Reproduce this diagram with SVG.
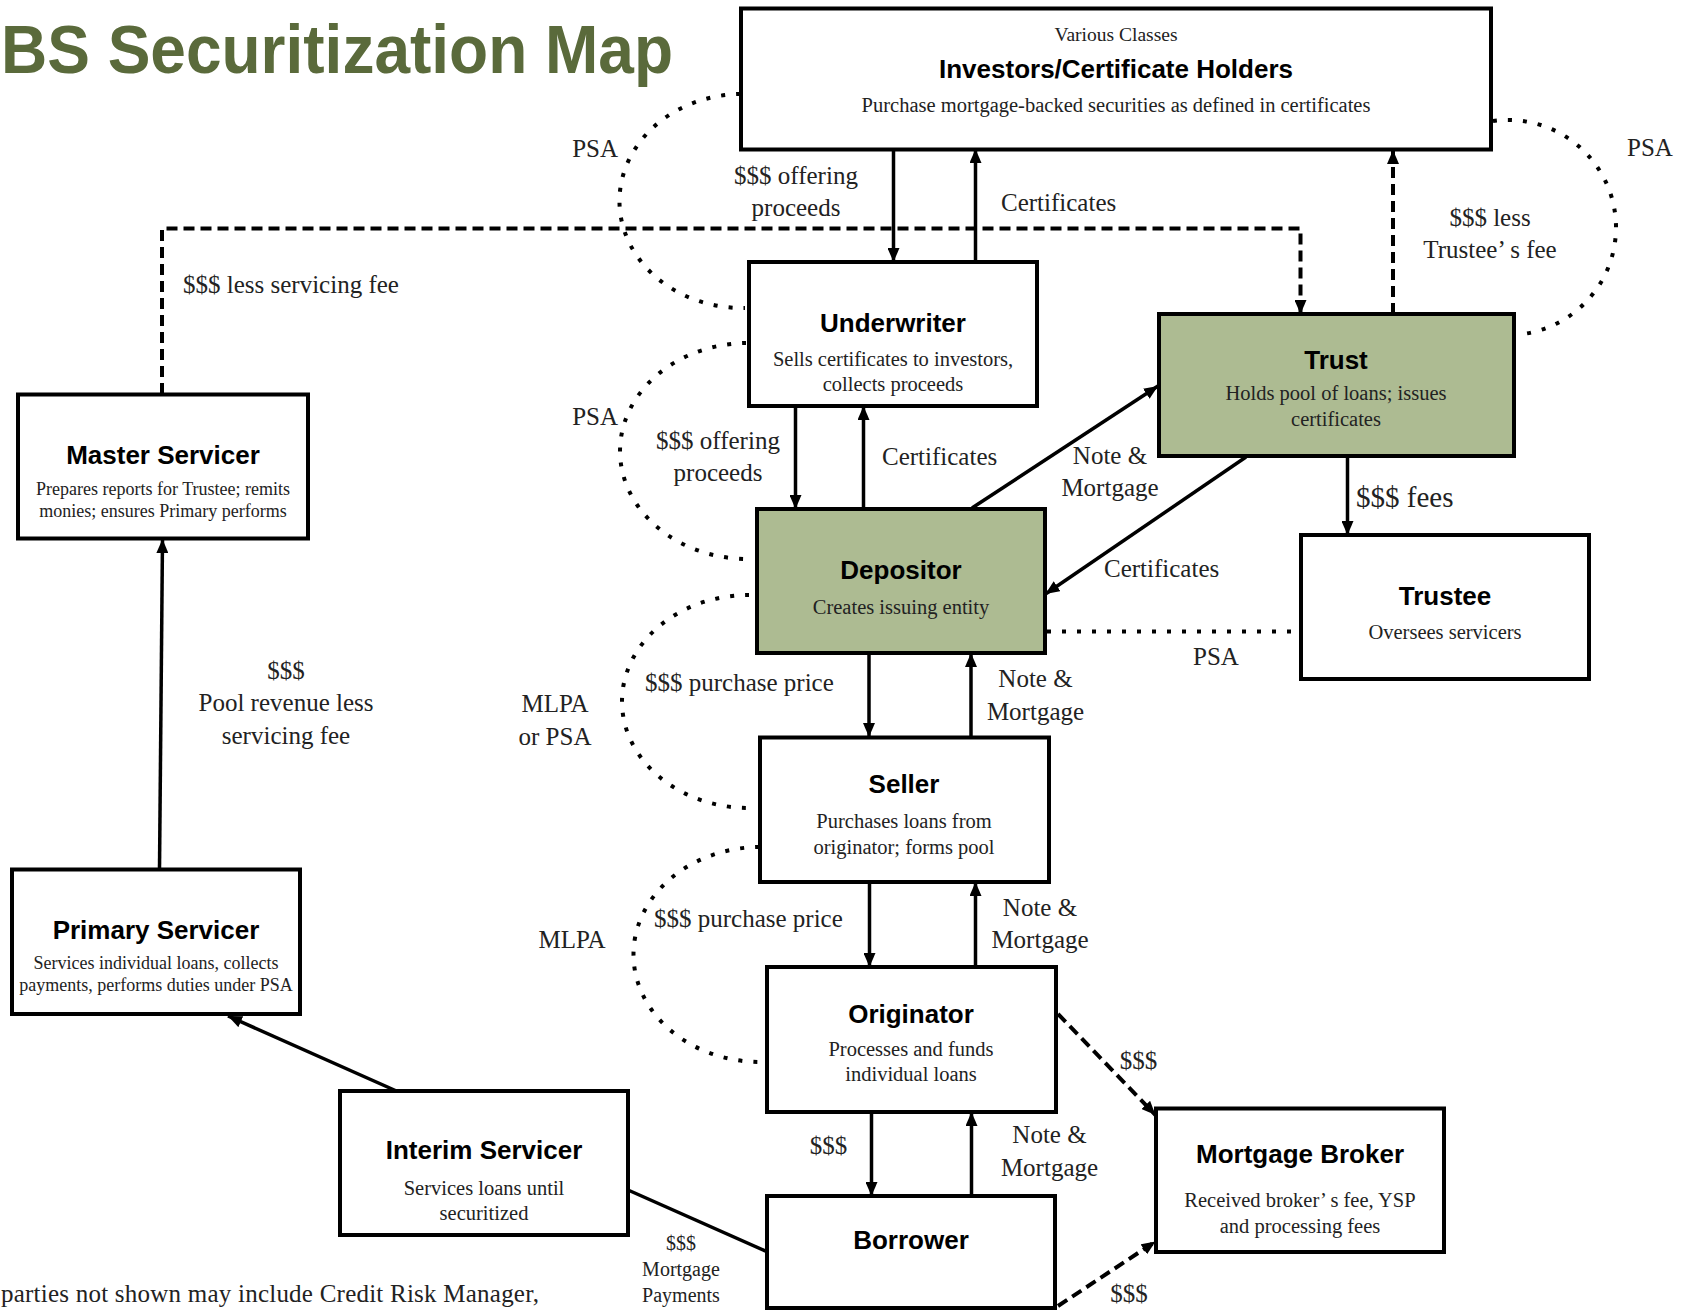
<svg xmlns="http://www.w3.org/2000/svg" width="1681" height="1310" viewBox="0 0 1681 1310">
<style>
.box{fill:#fff;stroke:#000;stroke-width:4}
.green{fill:#adbb92}
.t{font-family:"Liberation Sans",Arial,sans-serif;font-weight:bold;font-size:26px;fill:#000;text-anchor:middle}
.d{font-family:"Liberation Serif","Times New Roman",serif;font-size:20.5px;fill:#222;text-anchor:middle}
.ds{font-family:"Liberation Serif","Times New Roman",serif;font-size:18px;fill:#222;text-anchor:middle}
.l{font-family:"Liberation Serif","Times New Roman",serif;font-size:25px;fill:#222}
.m{text-anchor:middle}
.e{text-anchor:end}
.ln{fill:none;stroke:#000;stroke-width:3.5}
.dash{fill:none;stroke:#000;stroke-width:4;stroke-dasharray:11 6}
.dot{fill:none;stroke:#000;stroke-width:4;stroke-dasharray:4 11}
</style>
<defs>
<marker id="ah" viewBox="0 0 14 12" refX="14" refY="6" markerWidth="14" markerHeight="12" markerUnits="userSpaceOnUse" orient="auto">
<path d="M0,0 L14,6 L0,12 z" fill="#000" stroke="none"/>
</marker>
</defs>
<rect width="1681" height="1310" fill="#fff"/>
<text x="1" y="73" font-family="'Liberation Sans',Arial,sans-serif" font-weight="bold" font-size="69" fill="#5a6a3b" textLength="672" lengthAdjust="spacingAndGlyphs">BS Securitization Map</text>

<g id="connectors">
<path class="dot" d="M740,94 A123,107 0 0,0 745,308"/>
<path class="dot" d="M1493,121 A107,106.5 0 0,1 1523,334"/>
<path class="dot" d="M746,343 A128,108 0 0,0 750,559"/>
<path class="dot" d="M749,595 A127,106.5 0 0,0 749,808"/>
<path class="dot" d="M759,847 A127,107.5 0 0,0 762,1062"/>
<path class="dot" d="M1047,631.5 L1300,631.5"/>
<path class="dash" d="M162,394 L162,228.5 L1300.5,228.5 L1300.5,314" marker-end="url(#ah)"/>
<path class="dash" d="M1393,314 L1393,150" marker-end="url(#ah)"/>
<path class="dash" d="M1058,1014 L1155.5,1115" marker-end="url(#ah)"/>
<path class="dash" d="M1058,1306 L1155.5,1241.5" marker-end="url(#ah)"/>
<path class="ln" d="M893.5,149 L893.5,262" marker-end="url(#ah)"/>
<path class="ln" d="M975.5,262 L975.5,149" marker-end="url(#ah)"/>
<path class="ln" d="M795.5,406 L795.5,509" marker-end="url(#ah)"/>
<path class="ln" d="M863.5,509 L863.5,406" marker-end="url(#ah)"/>
<path class="ln" d="M972,508 L1158,386" marker-end="url(#ah)"/>
<path class="ln" d="M1246,457 L1045.5,594" marker-end="url(#ah)"/>
<path class="ln" d="M1347.5,456 L1347.5,535" marker-end="url(#ah)"/>
<path class="ln" d="M869,653 L869,737" marker-end="url(#ah)"/>
<path class="ln" d="M971,737 L971,653" marker-end="url(#ah)"/>
<path class="ln" d="M869.5,882 L869.5,967" marker-end="url(#ah)"/>
<path class="ln" d="M975.5,967 L975.5,882" marker-end="url(#ah)"/>
<path class="ln" d="M871.5,1112 L871.5,1196" marker-end="url(#ah)"/>
<path class="ln" d="M971.5,1196 L971.5,1112" marker-end="url(#ah)"/>
<path class="ln" d="M766.5,1251.5 L628,1190"/>
<path class="ln" d="M396.5,1091 L228,1016" marker-end="url(#ah)"/>
<path class="ln" d="M159.5,869.5 L162.5,539" marker-end="url(#ah)"/>

<text class="l e" x="618" y="157">PSA</text>
<text class="l" x="1627" y="156">PSA</text>
<text class="l e" x="618" y="425">PSA</text>
<text class="l m" x="555" y="712">MLPA</text>
<text class="l m" x="555" y="744.5">or PSA</text>
<text class="l m" x="572" y="948">MLPA</text>
<text class="l m" x="1216" y="665">PSA</text>
<text class="l m" x="796" y="184">$$$ offering</text>
<text class="l m" x="796" y="216">proceeds</text>
<text class="l" x="1001" y="210.5">Certificates</text>
<text class="l" x="183" y="293">$$$ less servicing fee</text>
<text class="l m" x="1490" y="225.5">$$$ less</text>
<text class="l m" x="1490" y="258">Trustee’ s fee</text>
<text class="l m" x="718" y="448.5">$$$ offering</text>
<text class="l m" x="718" y="480.5">proceeds</text>
<text class="l" x="882" y="465">Certificates</text>
<text class="l m" x="1110" y="463.5">Note &amp;</text>
<text class="l m" x="1110" y="496">Mortgage</text>
<text class="l" x="1104" y="577">Certificates</text>
<text class="l" x="1356" y="507" style="font-size:29px">$$$ fees</text>
<text class="l" x="645" y="691">$$$ purchase price</text>
<text class="l m" x="1035.5" y="686.5">Note &amp;</text>
<text class="l m" x="1035.5" y="720">Mortgage</text>
<text class="l" x="654" y="927">$$$ purchase price</text>
<text class="l m" x="1040" y="916">Note &amp;</text>
<text class="l m" x="1040" y="948">Mortgage</text>
<text class="l m" x="828.5" y="1154">$$$</text>
<text class="l m" x="1049.5" y="1143">Note &amp;</text>
<text class="l m" x="1049.5" y="1175.5">Mortgage</text>
<text class="l m" x="1138.5" y="1069">$$$</text>
<text class="l m" x="1129" y="1302">$$$</text>
<text class="l m" x="681" y="1250" style="font-size:20px">$$$</text>
<text class="l m" x="681" y="1275.5" style="font-size:20px">Mortgage</text>
<text class="l m" x="681" y="1301.5" style="font-size:20px">Payments</text>
<text class="l m" x="286" y="679">$$$</text>
<text class="l m" x="286" y="711">Pool revenue less</text>
<text class="l m" x="286" y="743.5">servicing fee</text>
</g>

<g id="investors">
<rect class="box" x="741" y="8.5" width="750" height="141"/>
<text class="d" x="1116" y="40.5" style="font-size:19.5px">Various Classes</text>
<text class="t" x="1116" y="77.5">Investors/Certificate Holders</text>
<text class="d" x="1116" y="111.5">Purchase mortgage-backed securities as defined in certificates</text>
</g>
<g id="underwriter">
<rect class="box" x="749" y="262" width="288" height="144"/>
<text class="t" x="893" y="332">Underwriter</text>
<text class="d" x="893" y="365.5">Sells certificates to investors,</text>
<text class="d" x="893" y="390.5">collects proceeds</text>
</g>
<g id="trust">
<rect class="box green" x="1159" y="314" width="355" height="142"/>
<text class="t" x="1336" y="369">Trust</text>
<text class="d" x="1336" y="400">Holds pool of loans; issues</text>
<text class="d" x="1336" y="425.5">certificates</text>
</g>
<g id="depositor">
<rect class="box green" x="757" y="509" width="288" height="144"/>
<text class="t" x="901" y="579">Depositor</text>
<text class="d" x="901" y="613.5">Creates issuing entity</text>
</g>
<g id="trustee">
<rect class="box" x="1301" y="535" width="288" height="144"/>
<text class="t" x="1445" y="605">Trustee</text>
<text class="d" x="1445" y="639">Oversees servicers</text>
</g>
<g id="master-servicer">
<rect class="box" x="18" y="394.5" width="290" height="144"/>
<text class="t" x="163" y="463.5">Master Servicer</text>
<text class="ds" x="163" y="495">Prepares reports for Trustee; remits</text>
<text class="ds" x="163" y="517">monies; ensures Primary performs</text>
</g>
<g id="seller">
<rect class="box" x="760" y="737.5" width="289" height="144.5"/>
<text class="t" x="904" y="793">Seller</text>
<text class="d" x="904" y="827.5">Purchases loans from</text>
<text class="d" x="904" y="853.5">originator; forms pool</text>
</g>
<g id="originator">
<rect class="box" x="767" y="967" width="289" height="145"/>
<text class="t" x="911" y="1023">Originator</text>
<text class="d" x="911" y="1056">Processes and funds</text>
<text class="d" x="911" y="1080.5">individual loans</text>
</g>
<g id="borrower">
<rect class="box" x="767" y="1196" width="288" height="112"/>
<text class="t" x="911" y="1249">Borrower</text>
</g>
<g id="mortgage-broker">
<rect class="box" x="1156" y="1108.5" width="288" height="143.5"/>
<text class="t" x="1300" y="1162.5">Mortgage Broker</text>
<text class="d" x="1300" y="1207">Received broker’ s fee, YSP</text>
<text class="d" x="1300" y="1232.5">and processing fees</text>
</g>
<g id="primary-servicer">
<rect class="box" x="12" y="869.5" width="288" height="144.5"/>
<text class="t" x="156" y="938.5">Primary Servicer</text>
<text class="ds" x="156" y="969">Services individual loans, collects</text>
<text class="ds" x="156" y="991">payments, performs duties under PSA</text>
</g>
<g id="interim-servicer">
<rect class="box" x="340" y="1091" width="288" height="144"/>
<text class="t" x="484" y="1159">Interim Servicer</text>
<text class="d" x="484" y="1194.5">Services loans until</text>
<text class="d" x="484" y="1220">securitized</text>
</g>
<text class="l" x="1" y="1302" textLength="538" lengthAdjust="spacing">parties not shown may include Credit Risk Manager,</text>
</svg>
